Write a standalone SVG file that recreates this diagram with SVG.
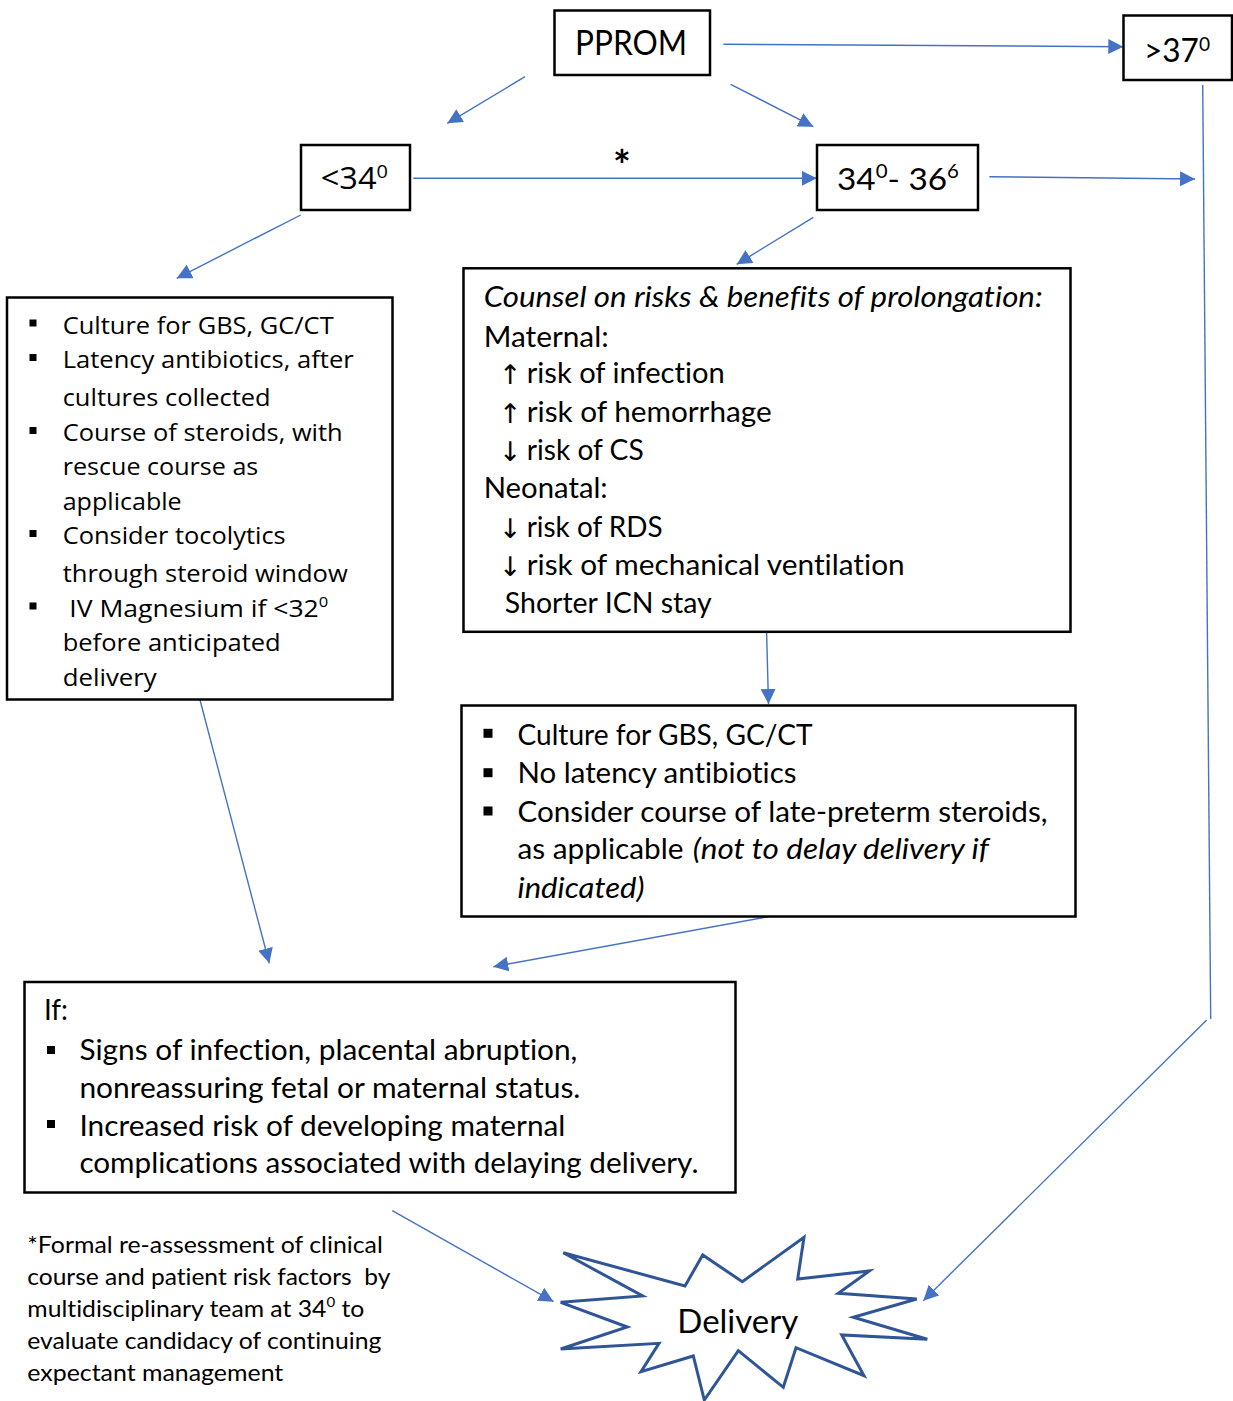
<svg xmlns="http://www.w3.org/2000/svg" width="1233" height="1401" viewBox="0 0 1233 1401">
<style>
.box{fill:#fff;stroke:#000;stroke-width:2.5}
.c{font-family:Lato,"Liberation Sans",sans-serif;fill:#000;font-variant-ligatures:none}
.s{font-family:"Open Sans","Liberation Sans",sans-serif;fill:#000}
.ar{font-family:"DejaVu Sans",sans-serif;font-size:27px;fill:#000}
.b31{font-size:29px}
.f25{font-size:24px}
.f24{font-size:23px}
.it{font-style:italic}
.con{fill:none;stroke:#4472C4;stroke-width:1.4}
.bul{fill:#000}
</style>
<defs>
<marker id="ah" markerUnits="userSpaceOnUse" markerWidth="16" markerHeight="16" refX="15" refY="7.5" orient="auto">
<path d="M0,0 L15,7.5 L0,15 Z" fill="#4472C4"/>
</marker>
</defs>
<rect width="1233" height="1401" fill="#fff"/>

<g id="connectors">
<path class="con" marker-end="url(#ah)" d="M723.3,44.3 L1123.3,46.7"/>
<path class="con" marker-end="url(#ah)" d="M525,76.7 L447.3,123.3"/>
<path class="con" marker-end="url(#ah)" d="M730.7,84.3 L813.3,126.7"/>
<path class="con" marker-end="url(#ah)" d="M413.3,178.3 L816.7,178.3"/>
<path class="con" marker-end="url(#ah)" d="M989.3,176.7 L1195,179"/>
<path class="con" d="M1202.7,85 L1210.7,1019"/>
<path class="con" marker-end="url(#ah)" d="M1206.7,1020 L923.3,1300.7"/>
<path class="con" marker-end="url(#ah)" d="M300.7,215 L176.7,278.3"/>
<path class="con" marker-end="url(#ah)" d="M813.3,217.3 L736.7,264.3"/>
<path class="con" marker-end="url(#ah)" d="M766.6,632.7 L768.5,704"/>
<path class="con" marker-end="url(#ah)" d="M200,700 L269.3,963.3"/>
<path class="con" marker-end="url(#ah)" d="M768.5,916.7 L493.3,966.7"/>
<path class="con" marker-end="url(#ah)" d="M392.3,1210.7 L553.6,1301.7"/>
<text class="c" x="622" y="181" font-size="42" font-weight="bold" text-anchor="middle">*</text>
</g>

<g id="pprom">
<rect class="box" x="554.5" y="10.5" width="155.5" height="64.5"/>
<text class="c" x="575" y="55" font-size="34" textLength="112" lengthAdjust="spacingAndGlyphs">PPROM</text>
</g>

<g id="gt37">
<rect class="box" x="1123.5" y="15.5" width="108.5" height="64.5"/>
<text class="c" x="1144" y="62" font-size="33" textLength="66" lengthAdjust="spacingAndGlyphs">&gt;37<tspan dy="-11" font-size="20">0</tspan></text>
</g>

<g id="lt34">
<rect class="box" x="301" y="145" width="109" height="65"/>
<text class="s" x="320.7" y="189.3" font-size="31" textLength="67.3" lengthAdjust="spacingAndGlyphs">&lt;34<tspan dy="-11" font-size="19">0</tspan></text>
</g>

<g id="r34to36">
<rect class="box" x="817" y="145" width="161" height="65"/>
<text class="c" x="837" y="190" font-size="31" textLength="122" lengthAdjust="spacingAndGlyphs">34<tspan dy="-12.5" font-size="19">0</tspan><tspan dy="12.5">- 36</tspan><tspan dy="-12.5" font-size="19">6</tspan></text>
</g>

<g id="left-box">
<rect class="box" x="7" y="297.5" width="385.5" height="402"/>
<rect class="bul" x="29.5" y="319.5" width="7" height="7"/>
<rect class="bul" x="29.5" y="354" width="7" height="7"/>
<rect class="bul" x="29.5" y="427" width="7" height="7"/>
<rect class="bul" x="29.5" y="530" width="7" height="7"/>
<rect class="bul" x="29.5" y="602.5" width="7" height="7"/>
<text class="s f25" x="62.7" y="333.5" textLength="271" lengthAdjust="spacingAndGlyphs">Culture for GBS, GC/CT</text>
<text class="s f25" x="62.7" y="367.9" textLength="291" lengthAdjust="spacingAndGlyphs">Latency antibiotics, after</text>
<text class="s f25" x="62.7" y="405.6" textLength="208" lengthAdjust="spacingAndGlyphs">cultures collected</text>
<text class="s f25" x="62.7" y="440.8" textLength="280" lengthAdjust="spacingAndGlyphs">Course of steroids, with</text>
<text class="s f25" x="62.7" y="474.8" textLength="195.6" lengthAdjust="spacingAndGlyphs">rescue course as</text>
<text class="s f25" x="62.7" y="509.9" textLength="119" lengthAdjust="spacingAndGlyphs">applicable</text>
<text class="s f25" x="62.7" y="543.6" textLength="223" lengthAdjust="spacingAndGlyphs">Consider tocolytics</text>
<text class="s f25" x="62.7" y="582.1" textLength="285" lengthAdjust="spacingAndGlyphs">through steroid window</text>
<text class="s f25" x="69.3" y="616.5" textLength="259" lengthAdjust="spacingAndGlyphs">IV Magnesium if &lt;32<tspan dy="-9.5" font-size="15">0</tspan></text>
<text class="s f25" x="62.7" y="650.9" textLength="218" lengthAdjust="spacingAndGlyphs">before anticipated</text>
<text class="s f25" x="62.7" y="686.1" textLength="94" lengthAdjust="spacingAndGlyphs">delivery</text>
</g>

<g id="counsel-box">
<rect class="box" x="463.5" y="268.3" width="607" height="363.5"/>
<text class="c b31 it" x="483.7" y="306.5" textLength="559" lengthAdjust="spacingAndGlyphs">Counsel on risks &amp; benefits of prolongation:</text>
<text class="c b31" x="483.7" y="346.5" textLength="125" lengthAdjust="spacingAndGlyphs">Maternal:</text>
<text class="ar" x="499" y="384">↑</text>
<text class="c b31" x="526.7" y="383.3" textLength="198" lengthAdjust="spacingAndGlyphs">risk of infection</text>
<text class="ar" x="499" y="422.5">↑</text>
<text class="c b31" x="526.7" y="421.7" textLength="245" lengthAdjust="spacingAndGlyphs">risk of hemorrhage</text>
<text class="ar" x="499" y="460.5">↓</text>
<text class="c b31" x="526.7" y="460" textLength="117" lengthAdjust="spacingAndGlyphs">risk of CS</text>
<text class="c b31" x="483.7" y="498.3" textLength="124" lengthAdjust="spacingAndGlyphs">Neonatal:</text>
<text class="ar" x="499" y="538">↓</text>
<text class="c b31" x="526.7" y="537.3" textLength="136" lengthAdjust="spacingAndGlyphs">risk of RDS</text>
<text class="ar" x="499" y="575.5">↓</text>
<text class="c b31" x="526.7" y="575" textLength="378" lengthAdjust="spacingAndGlyphs">risk of mechanical ventilation</text>
<text class="c b31" x="504.8" y="612.7" textLength="207" lengthAdjust="spacingAndGlyphs">Shorter ICN stay</text>
</g>

<g id="culture-box">
<rect class="box" x="461.5" y="705.5" width="614" height="211"/>
<rect class="bul" x="483.5" y="728.8" width="9" height="9"/>
<rect class="bul" x="483.5" y="768.2" width="9" height="9"/>
<rect class="bul" x="483.5" y="806.5" width="9" height="9"/>
<text class="c b31" x="517.5" y="745" textLength="295" lengthAdjust="spacingAndGlyphs">Culture for GBS, GC/CT</text>
<text class="c b31" x="517.5" y="783.3" textLength="279" lengthAdjust="spacingAndGlyphs">No latency antibiotics</text>
<text class="c b31" x="517.5" y="821.7" textLength="530" lengthAdjust="spacingAndGlyphs">Consider course of late-preterm steroids,</text>
<text class="c b31" x="517.5" y="859.3" textLength="166" lengthAdjust="spacingAndGlyphs">as applicable</text>
<text class="c b31 it" x="692.8" y="859.3" textLength="296" lengthAdjust="spacingAndGlyphs">(not to delay delivery if</text>
<text class="c b31 it" x="517.5" y="897.7" textLength="127" lengthAdjust="spacingAndGlyphs">indicated)</text>
</g>

<g id="if-box">
<rect class="box" x="24.5" y="982" width="711" height="210.5"/>
<text class="c b31" x="44" y="1020" textLength="24" lengthAdjust="spacingAndGlyphs">If:</text>
<rect class="bul" x="47" y="1046" width="8" height="8"/>
<rect class="bul" x="47" y="1120" width="8" height="8"/>
<text class="c b31" x="79.4" y="1060" textLength="498" lengthAdjust="spacingAndGlyphs">Signs of infection, placental abruption,</text>
<text class="c b31" x="79.4" y="1097.7" textLength="501" lengthAdjust="spacingAndGlyphs">nonreassuring fetal or maternal status.</text>
<text class="c b31" x="79.4" y="1135.7" textLength="486" lengthAdjust="spacingAndGlyphs">Increased risk of developing maternal</text>
<text class="c b31" x="79.4" y="1173.3" textLength="619" lengthAdjust="spacingAndGlyphs">complications associated with delaying delivery.</text>
</g>

<g id="footnote">
<text class="c f24" x="27.3" y="1253.3" textLength="355.5" lengthAdjust="spacingAndGlyphs">*Formal re-assessment of clinical</text>
<text class="c f24" x="27.3" y="1285" textLength="363" lengthAdjust="spacingAndGlyphs" xml:space="preserve">course and patient risk factors  by</text>
<text class="c f24" x="27.3" y="1317.3" textLength="337" lengthAdjust="spacingAndGlyphs">multidisciplinary team at 34<tspan dy="-10" font-size="14">0</tspan><tspan dy="10"> to</tspan></text>
<text class="c f24" x="27.3" y="1349.3" textLength="354" lengthAdjust="spacingAndGlyphs">evaluate candidacy of continuing</text>
<text class="c f24" x="27.3" y="1381" textLength="256" lengthAdjust="spacingAndGlyphs">expectant management</text>
</g>

<g id="delivery">
<polygon fill="#fff" stroke="#2F5597" stroke-width="3" stroke-linejoin="miter" points="563.3,1252.7 685,1286 702.7,1255 742.3,1281.7 804,1237.3 797.7,1279 869.3,1271 838.3,1293.3 916.7,1299 853.3,1317.3 927.3,1339.3 841.7,1335 864,1375.7 796,1347.7 783.3,1387.3 738.3,1350.7 704.3,1400 693.3,1356 641,1371.7 659,1343.3 560.7,1349 627.3,1327 560.7,1302.3 642.7,1296"/>
<text class="c" x="677.3" y="1333.3" font-size="32" textLength="121" lengthAdjust="spacingAndGlyphs">Delivery</text>
</g>
</svg>
